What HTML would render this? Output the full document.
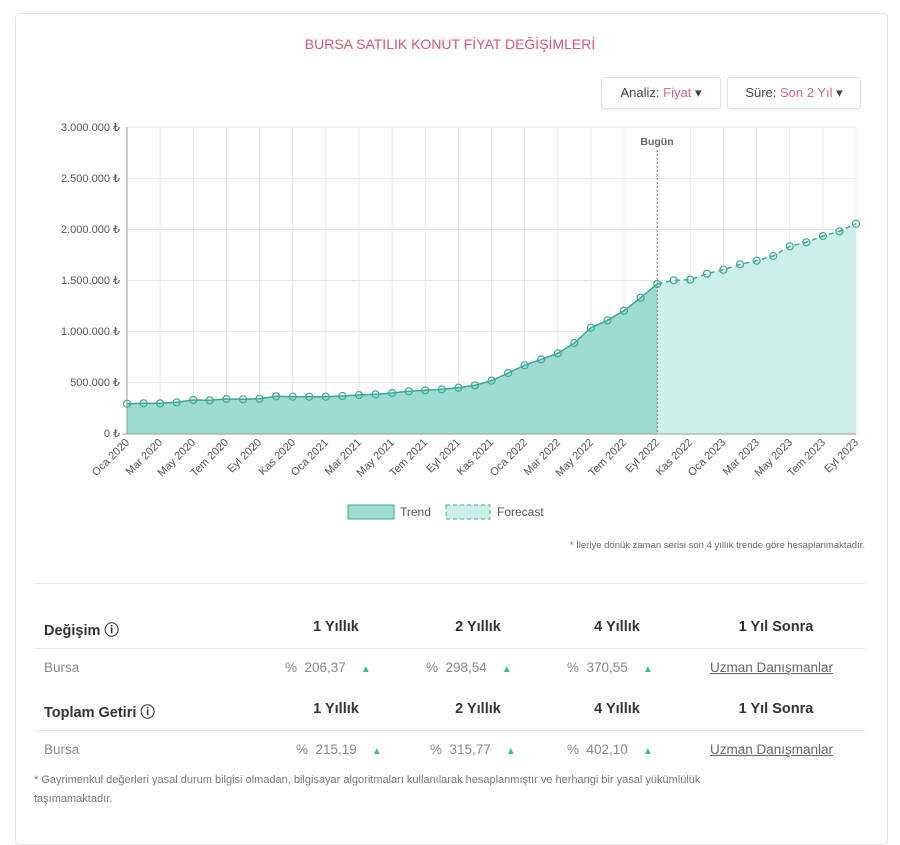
<!DOCTYPE html>
<html><head><meta charset="utf-8"><style>
body{margin:0;background:#fff;font-family:"Liberation Sans",sans-serif;overflow:hidden}
.card{position:absolute;left:15px;top:13px;width:871px;height:830px;border:1px solid #e3e3e3;border-radius:4px;}
.t{position:absolute;white-space:nowrap;}
.dd{position:absolute;top:77px;height:30px;border:1px solid #e2e2e2;border-radius:3px;font-size:13px;color:#444;line-height:30px;box-shadow:0 1px 2px rgba(0,0,0,.08);}
.pk{color:#d9677b}
.h{font-size:14.5px;font-weight:bold;color:#333;top:619px}
.v{font-size:13.5px;color:#888}
.tri{color:#3bb9a5;font-size:10px}
.ln{position:absolute;left:35px;width:830px;height:1px;background:#e8e8e8}
.lk{color:#666;text-decoration:underline;font-size:13.5px}
</style></head><body>
<div class="card"></div>
<div class="t" style="left:0;width:900px;text-align:center;top:36px;font-size:14px;color:#d9566c">BURSA SATILIK KONUT FİYAT DEĞİŞİMLERİ</div>
<div class="dd" style="left:601px;width:118px;text-align:center">Analiz: <span class="pk">Fiyat</span> ▾</div>
<div class="dd" style="left:727px;width:132px;text-align:center">Süre: <span class="pk">Son 2 Yıl</span> ▾</div>
<svg width="900" height="825" style="position:absolute;left:0;top:0" font-family="Liberation Sans, sans-serif">
<g stroke="#e6e6e6" stroke-width="1">
<line x1="127" x2="856" y1="127.3" y2="127.3"/><line x1="127" x2="856" y1="178.4" y2="178.4"/><line x1="127" x2="856" y1="229.5" y2="229.5"/><line x1="127" x2="856" y1="280.5" y2="280.5"/><line x1="127" x2="856" y1="331.6" y2="331.6"/><line x1="127" x2="856" y1="382.7" y2="382.7"/>
<line x1="160.1" x2="160.1" y1="127" y2="434"/><line x1="193.3" x2="193.3" y1="127" y2="434"/><line x1="226.4" x2="226.4" y1="127" y2="434"/><line x1="259.5" x2="259.5" y1="127" y2="434"/><line x1="292.7" x2="292.7" y1="127" y2="434"/><line x1="325.8" x2="325.8" y1="127" y2="434"/><line x1="359" x2="359" y1="127" y2="434"/><line x1="392.1" x2="392.1" y1="127" y2="434"/><line x1="425.2" x2="425.2" y1="127" y2="434"/><line x1="458.4" x2="458.4" y1="127" y2="434"/><line x1="491.5" x2="491.5" y1="127" y2="434"/><line x1="524.6" x2="524.6" y1="127" y2="434"/><line x1="557.8" x2="557.8" y1="127" y2="434"/><line x1="590.9" x2="590.9" y1="127" y2="434"/><line x1="624" x2="624" y1="127" y2="434"/><line x1="690.3" x2="690.3" y1="127" y2="434"/><line x1="723.4" x2="723.4" y1="127" y2="434"/><line x1="756.6" x2="756.6" y1="127" y2="434"/><line x1="789.7" x2="789.7" y1="127" y2="434"/><line x1="822.9" x2="822.9" y1="127" y2="434"/><line x1="856" x2="856" y1="127" y2="434"/>
</g>
<polygon fill="#cdefe9" points="657.2,284 673.7,280.3 690.3,279.7 706.9,273.7 723.4,269.7 740,264.3 756.6,260.7 773.2,256 789.7,246.3 806.3,242.3 822.9,236 839.4,231.3 856,223.7 856,434 657.2,434"/>
<polygon fill="#9edcd3" points="127,403.7 143.6,403.3 160.1,403.3 176.7,402.3 193.3,400 209.8,400.3 226.4,399 243,399.3 259.5,398.7 276.1,396.3 292.7,396.7 309.2,396.7 325.8,396.7 342.4,396 359,395 375.5,394.3 392.1,393 408.7,391.3 425.2,390.3 441.8,389.3 458.4,387.7 474.9,385.3 491.5,380.7 508.1,373 524.6,365.3 541.2,359.3 557.8,353.3 574.3,343 590.9,327.7 607.5,320.3 624,310.7 640.6,297.7 657.2,284 657.2,434 127,434"/>
<polyline fill="none" stroke="#3aa896" stroke-width="1.5" points="127,403.7 143.6,403.3 160.1,403.3 176.7,402.3 193.3,400 209.8,400.3 226.4,399 243,399.3 259.5,398.7 276.1,396.3 292.7,396.7 309.2,396.7 325.8,396.7 342.4,396 359,395 375.5,394.3 392.1,393 408.7,391.3 425.2,390.3 441.8,389.3 458.4,387.7 474.9,385.3 491.5,380.7 508.1,373 524.6,365.3 541.2,359.3 557.8,353.3 574.3,343 590.9,327.7 607.5,320.3 624,310.7 640.6,297.7 657.2,284"/>
<polyline fill="none" stroke="#3aa896" stroke-width="1.5" stroke-dasharray="5,4" points="657.2,284 673.7,280.3 690.3,279.7 706.9,273.7 723.4,269.7 740,264.3 756.6,260.7 773.2,256 789.7,246.3 806.3,242.3 822.9,236 839.4,231.3 856,223.7"/>
<g fill="none" stroke="#3aa896" stroke-width="1.2">
<circle cx="127" cy="403.7" r="3.5"/><circle cx="143.6" cy="403.3" r="3.5"/><circle cx="160.1" cy="403.3" r="3.5"/><circle cx="176.7" cy="402.3" r="3.5"/><circle cx="193.3" cy="400" r="3.5"/><circle cx="209.8" cy="400.3" r="3.5"/><circle cx="226.4" cy="399" r="3.5"/><circle cx="243" cy="399.3" r="3.5"/><circle cx="259.5" cy="398.7" r="3.5"/><circle cx="276.1" cy="396.3" r="3.5"/><circle cx="292.7" cy="396.7" r="3.5"/><circle cx="309.2" cy="396.7" r="3.5"/><circle cx="325.8" cy="396.7" r="3.5"/><circle cx="342.4" cy="396" r="3.5"/><circle cx="359" cy="395" r="3.5"/><circle cx="375.5" cy="394.3" r="3.5"/><circle cx="392.1" cy="393" r="3.5"/><circle cx="408.7" cy="391.3" r="3.5"/><circle cx="425.2" cy="390.3" r="3.5"/><circle cx="441.8" cy="389.3" r="3.5"/><circle cx="458.4" cy="387.7" r="3.5"/><circle cx="474.9" cy="385.3" r="3.5"/><circle cx="491.5" cy="380.7" r="3.5"/><circle cx="508.1" cy="373" r="3.5"/><circle cx="524.6" cy="365.3" r="3.5"/><circle cx="541.2" cy="359.3" r="3.5"/><circle cx="557.8" cy="353.3" r="3.5"/><circle cx="574.3" cy="343" r="3.5"/><circle cx="590.9" cy="327.7" r="3.5"/><circle cx="607.5" cy="320.3" r="3.5"/><circle cx="624" cy="310.7" r="3.5"/><circle cx="640.6" cy="297.7" r="3.5"/><circle cx="657.2" cy="284" r="3.5"/><circle cx="673.7" cy="280.3" r="3.5"/><circle cx="690.3" cy="279.7" r="3.5"/><circle cx="706.9" cy="273.7" r="3.5"/><circle cx="723.4" cy="269.7" r="3.5"/><circle cx="740" cy="264.3" r="3.5"/><circle cx="756.6" cy="260.7" r="3.5"/><circle cx="773.2" cy="256" r="3.5"/><circle cx="789.7" cy="246.3" r="3.5"/><circle cx="806.3" cy="242.3" r="3.5"/><circle cx="822.9" cy="236" r="3.5"/><circle cx="839.4" cy="231.3" r="3.5"/><circle cx="856" cy="223.7" r="3.5"/>
</g>
<line x1="127" x2="127" y1="127" y2="434" stroke="#999"/>
<line x1="122" x2="856" y1="434" y2="434" stroke="#999"/>
<line x1="657.2" x2="657.2" y1="150" y2="434" stroke="#777" stroke-dasharray="2,2"/>
<text x="657" y="145" font-size="10.5" font-weight="bold" fill="#666" text-anchor="middle">Bugün</text>
<g font-size="11" fill="#555" text-anchor="end">
<text x="120" y="131">3.000.000 ₺</text><text x="120" y="182">2.500.000 ₺</text><text x="120" y="233">2.000.000 ₺</text><text x="120" y="284">1.500.000 ₺</text><text x="120" y="335">1.000.000 ₺</text><text x="120" y="386">500.000 ₺</text><text x="120" y="437">0 ₺</text>
</g>
<g font-size="11" fill="#555" text-anchor="end">
<text transform="translate(130,443) rotate(-45)">Oca 2020</text>
<text transform="translate(163,443) rotate(-45)">Mar 2020</text>
<text transform="translate(196,443) rotate(-45)">May 2020</text>
<text transform="translate(229,443) rotate(-45)">Tem 2020</text>
<text transform="translate(262,443) rotate(-45)">Eyl 2020</text>
<text transform="translate(296,443) rotate(-45)">Kas 2020</text>
<text transform="translate(329,443) rotate(-45)">Oca 2021</text>
<text transform="translate(362,443) rotate(-45)">Mar 2021</text>
<text transform="translate(395,443) rotate(-45)">May 2021</text>
<text transform="translate(428,443) rotate(-45)">Tem 2021</text>
<text transform="translate(461,443) rotate(-45)">Eyl 2021</text>
<text transform="translate(494,443) rotate(-45)">Kas 2021</text>
<text transform="translate(528,443) rotate(-45)">Oca 2022</text>
<text transform="translate(561,443) rotate(-45)">Mar 2022</text>
<text transform="translate(594,443) rotate(-45)">May 2022</text>
<text transform="translate(627,443) rotate(-45)">Tem 2022</text>
<text transform="translate(660,443) rotate(-45)">Eyl 2022</text>
<text transform="translate(693,443) rotate(-45)">Kas 2022</text>
<text transform="translate(726,443) rotate(-45)">Oca 2023</text>
<text transform="translate(760,443) rotate(-45)">Mar 2023</text>
<text transform="translate(793,443) rotate(-45)">May 2023</text>
<text transform="translate(826,443) rotate(-45)">Tem 2023</text>
<text transform="translate(859,443) rotate(-45)">Eyl 2023</text>
</g>
<rect x="348" y="505" width="46" height="14" fill="#9edcd3" stroke="#3aa896"/>
<text x="400" y="516" font-size="12" fill="#555">Trend</text>
<rect x="446" y="505" width="44" height="14" fill="#cdefe9" stroke="#3aa896" stroke-dasharray="4,3"/>
<text x="497" y="516" font-size="12" fill="#555">Forecast</text>
<text x="865" y="548" font-size="9.5" fill="#666" text-anchor="end">* İleriye dönük zaman serisi son 4 yıllık trende göre hesaplanmaktadır.</text>
</svg>
<div class="ln" style="top:583px"></div>
<div class="ln" style="top:648px"></div>
<div class="ln" style="top:730px"></div>
<div class="t h" style="left:44px">Değişim ⓘ</div>
<div class="t h" style="left:296px;width:80px;text-align:center">1 Yıllık</div>
<div class="t h" style="left:438px;width:80px;text-align:center">2 Yıllık</div>
<div class="t h" style="left:577px;width:80px;text-align:center">4 Yıllık</div>
<div class="t h" style="left:716px;width:120px;text-align:center">1 Yıl Sonra</div>
<div class="t v" style="left:44px;top:660px">Bursa</div>
<div class="t v" style="left:285px;top:660px">%&nbsp;&nbsp;206,37 &nbsp;&nbsp;&nbsp;<span class="tri">▲</span></div>
<div class="t v" style="left:426px;top:660px">%&nbsp;&nbsp;298,54 &nbsp;&nbsp;&nbsp;<span class="tri">▲</span></div>
<div class="t v" style="left:567px;top:660px">%&nbsp;&nbsp;370,55 &nbsp;&nbsp;&nbsp;<span class="tri">▲</span></div>
<div class="t lk" style="left:710px;top:660px">Uzman Danışmanlar</div>
<div class="t h" style="left:44px;top:701px">Toplam Getiri ⓘ</div>
<div class="t h" style="left:296px;top:701px;width:80px;text-align:center">1 Yıllık</div>
<div class="t h" style="left:438px;top:701px;width:80px;text-align:center">2 Yıllık</div>
<div class="t h" style="left:577px;top:701px;width:80px;text-align:center">4 Yıllık</div>
<div class="t h" style="left:716px;top:701px;width:120px;text-align:center">1 Yıl Sonra</div>
<div class="t v" style="left:44px;top:742px">Bursa</div>
<div class="t v" style="left:296px;top:742px">%&nbsp;&nbsp;215,19 &nbsp;&nbsp;&nbsp;<span class="tri">▲</span></div>
<div class="t v" style="left:430px;top:742px">%&nbsp;&nbsp;315,77 &nbsp;&nbsp;&nbsp;<span class="tri">▲</span></div>
<div class="t v" style="left:567px;top:742px">%&nbsp;&nbsp;402,10 &nbsp;&nbsp;&nbsp;<span class="tri">▲</span></div>
<div class="t lk" style="left:710px;top:742px">Uzman Danışmanlar</div>
<div class="t" style="left:34px;top:771px;font-size:11px;color:#777;line-height:19px;white-space:normal;width:700px">* Gayrimenkul değerleri yasal durum bilgisi olmadan, bilgisayar algoritmaları kullanılarak hesaplanmıştır ve herhangi bir yasal yükümlülük taşımamaktadır.</div>
</body></html>
